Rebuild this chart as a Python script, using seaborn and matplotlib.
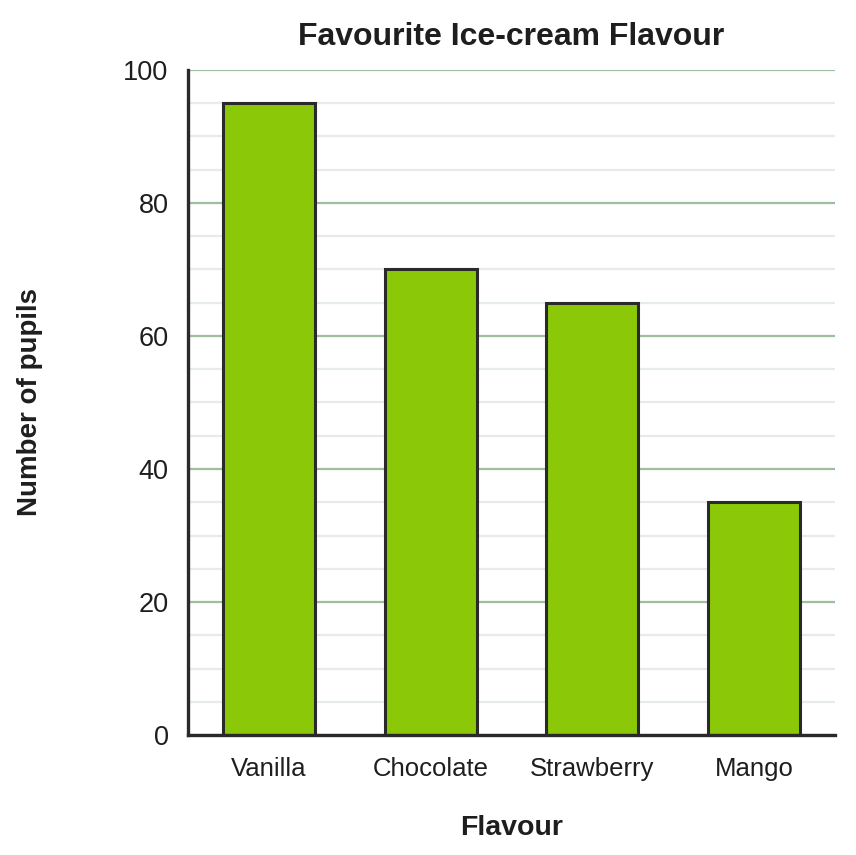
import pandas as pd
import matplotlib.pyplot as plt
import seaborn as sns
from matplotlib.ticker import MultipleLocator

flavours = ["Vanilla", "Chocolate", "Strawberry", "Mango"]
pupils = [95, 70, 65, 35]

sns.set_style("white")
plt.rcParams['font.family'] = ['Liberation Sans', 'DejaVu Sans']

df = pd.DataFrame({"Flavour": flavours, "Number of pupils": pupils})

fig = plt.figure(figsize=(8.56, 8.55), dpi=100)
ax = fig.add_axes([188 / 856, 1 - 735 / 855, (835 - 188) / 856, (735 - 70) / 855])

sns.barplot(data=df, x="Flavour", y="Number of pupils", ax=ax,
            color="#8ac808", saturation=1, width=0.57,
            edgecolor="#2a2a2a", linewidth=2.2, zorder=3)

ax.set_ylim(0, 100)
ax.set_xlim(-0.5, 3.5)
ax.yaxis.set_major_locator(MultipleLocator(20))
ax.yaxis.set_minor_locator(MultipleLocator(5))
ax.grid(which="minor", axis="y", color="#e6ece6", linewidth=1.6, zorder=0)
ax.grid(which="major", axis="y", color="#9dbf9d", linewidth=1.6, zorder=1)
ax.set_axisbelow(True)

for side in ["top", "right"]:
    ax.spines[side].set_visible(False)
for side in ["left", "bottom"]:
    ax.spines[side].set_color("#2a2a2a")
    ax.spines[side].set_linewidth(2.4)
    ax.spines[side].set_zorder(4)

ax.tick_params(axis="y", which="both", length=0, pad=14, labelsize=19.5, labelcolor="#1e1e1e")
ax.tick_params(axis="x", length=0, pad=16, labelsize=18.5, labelcolor="#1e1e1e")

ax.set_title("Favourite Ice-cream Flavour", fontsize=23, fontweight="bold", color="#1e1e1e", pad=18)
ax.set_xlabel("Flavour", fontsize=20.5, fontweight="bold", color="#1e1e1e", labelpad=24)
ax.set_ylabel("Number of pupils", fontsize=20, fontweight="bold", color="#1e1e1e", labelpad=58)

fig.savefig("out.png", dpi=100)
